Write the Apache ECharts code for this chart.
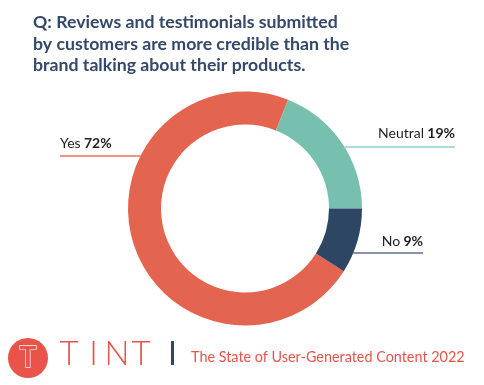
<!DOCTYPE html>
<html>
<head>
<meta charset="utf-8">
<script src="https://cdn.jsdelivr.net/npm/echarts@6/dist/echarts.min.js"></script>
<style>html,body{margin:0;padding:0;background:#fff}#c{width:484px;height:385px}</style>
</head>
<body>
<div id="c"></div>
<script>
var categories = ['Yes', 'Neutral', 'No'];
var values = [72, 19, 9];
var titleLines = ['Q: Reviews and testimonials submitted', 'by customers are more credible than the', 'brand talking about their products.'];
var footerText = 'The State of User-Generated Content 2022';

var colors = ['#e3644f', '#77c0b0', '#2d4664'];
var lineColors = ['#e8705f', '#92d2c3', '#5c7090'];
var CX = 245, CY = 208.5, R_IN = 84, R_OUT = 117;

// label placement: [anchor x, text y, line y, align]
var labelPlace = [
  {x: 60, ty: 143, ly: 156, align: 'left', side: -1},
  {x: 455, ty: 133, ly: 147, align: 'right', side: 1},
  {x: 423, ty: 241, ly: 253, align: 'right', side: 1}
];
function edgeX(y, side) {
  var d = y - CY;
  return CX + side * Math.sqrt(R_OUT * R_OUT - d * d);
}

var chart = echarts.init(document.getElementById('c'));
var data = categories.map(function (c, i) {
  return {
    name: c, value: values[i],
    itemStyle: {color: colors[i]},
    labelLine: {lineStyle: {color: lineColors[i], width: 1.5}}
  };
});
var font = 'Lato, "Open Sans", sans-serif';
var FR = '#e8534a';
chart.setOption({
  animation: false,
  title: {
    text: titleLines.join('\n'),
    left: 28, top: 7,
    textStyle: {fontFamily: font, fontWeight: 'bold', fontSize: 17.7, lineHeight: 21.5, color: '#33486a'}
  },
  series: [{
    type: 'pie',
    center: [CX, CY],
    radius: [R_IN, R_OUT],
    startAngle: -32.4,
    clockwise: true,
    data: data,
    label: {
      show: true,
      position: 'outside',
      formatter: function (p) { return '{a|' + p.name + '} {b|' + p.value + '%}'; },
      rich: {
        a: {fontFamily: font, fontSize: 14, color: '#1f1f1f'},
        b: {fontFamily: font, fontSize: 14, fontWeight: 'bold', color: '#1f1f1f'}
      }
    },
    labelLine: {show: true, length: 10, length2: 20},
    labelLayout: function (p) {
      var L = labelPlace[p.dataIndex];
      var start = edgeX(L.ly, L.side);
      return {
        x: L.x, y: L.ty, align: L.align, verticalAlign: 'middle',
        labelLinePoints: [[start, L.ly], [(start + L.x) / 2, L.ly], [L.x, L.ly]]
      };
    }
  }],
  graphic: [
    {type: 'circle', shape: {cx: 28, cy: 358, r: 20}, style: {fill: FR}},
    {type: 'text', x: 28, y: 358, style: {text: 'T', fontFamily: font, fontWeight: 'bold', fontSize: 28, fill: FR, stroke: '#fff', lineWidth: 1.3, align: 'center', verticalAlign: 'middle'}},
    {type: 'text', x: 69, y: 354, style: {text: 'T', fontFamily: font, fontWeight: 300, fontSize: 33, fill: FR, align: 'center', verticalAlign: 'middle'}},
    {type: 'text', x: 93.5, y: 354, style: {text: 'I', fontFamily: font, fontWeight: 300, fontSize: 33, fill: FR, align: 'center', verticalAlign: 'middle'}},
    {type: 'text', x: 117, y: 354, style: {text: 'N', fontFamily: font, fontWeight: 300, fontSize: 33, fill: FR, align: 'center', verticalAlign: 'middle'}},
    {type: 'text', x: 141, y: 354, style: {text: 'T', fontFamily: font, fontWeight: 300, fontSize: 33, fill: FR, align: 'center', verticalAlign: 'middle'}},
    {type: 'rect', shape: {x: 171, y: 341, width: 3, height: 24}, style: {fill: '#2b4865'}},
    {type: 'text', x: 191, y: 357, style: {text: footerText, fontFamily: font, fontSize: 14.4, fill: FR, align: 'left', verticalAlign: 'middle'}}
  ]
});
</script>
</body>
</html>
